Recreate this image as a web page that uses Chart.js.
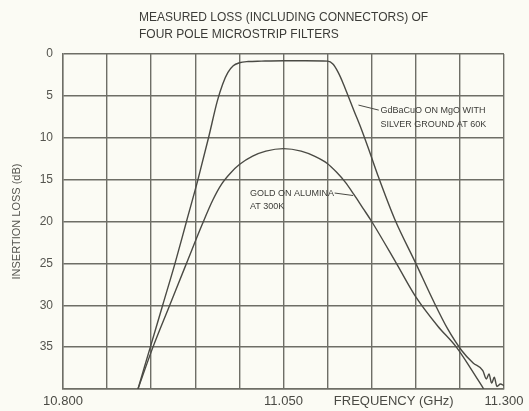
<!DOCTYPE html>
<html>
<head>
<meta charset="utf-8">
<script src="https://cdn.jsdelivr.net/npm/chart.js"></script>
<style>
  html, body { margin: 0; padding: 0; background: #fbfbf4; }
</style>
</head>
<body>
<canvas id="loss-chart" width="529" height="411"></canvas>
<script>
// values: frequency (GHz) and insertion loss (dB)
var htsFreq = [10.885, 10.899, 10.913, 10.927, 10.940, 10.953, 10.965, 10.975, 10.981, 10.987, 10.993, 11.0, 11.01, 11.025, 11.05, 11.075, 11.1, 11.106, 11.112, 11.118, 11.124, 11.13, 11.138, 11.146, 11.157, 11.176, 11.2, 11.22, 11.236, 11.252, 11.265, 11.276, 11.28, 11.283, 11.286, 11.289, 11.292, 11.296, 11.3];
var htsLoss = [40, 35, 30, 25, 20, 15, 10, 5.6, 3.6, 2.2, 1.4, 1.05, 0.9, 0.85, 0.8, 0.8, 0.85, 1.2, 2.2, 3.6, 5.2, 6.8, 8.9, 11.2, 14.5, 19.7, 25, 29.5, 32.8, 35.4, 36.9, 37.8, 38.8, 38.2, 39.3, 38.6, 39.7, 39.4, 39.6];

var goldFreq = [10.885, 10.902, 10.921, 10.940, 10.958, 10.970, 10.980, 10.990, 11.0, 11.015, 11.03, 11.05, 11.07, 11.085, 11.1, 11.11, 11.12, 11.13, 11.14, 11.15, 11.178, 11.2, 11.225, 11.246, 11.262, 11.277];
var goldLoss = [40, 35, 30, 25, 20.3, 17.4, 15.5, 14.2, 13.2, 12.2, 11.6, 11.3, 11.6, 12.2, 13.1, 14.1, 15.3, 16.8, 18.4, 20, 25, 29, 32.5, 35, 37.5, 40];

var yTicks = [0, 5, 10, 15, 20, 25, 30, 35];
var xTickValues = [10.8, 11.05, 11.175, 11.3];
var xTickLabels = ['10.800', '11.050', 'FREQUENCY (GHz)', '11.300'];

var titleLines = ['MEASURED LOSS (INCLUDING CONNECTORS) OF', 'FOUR POLE MICROSTRIP FILTERS'];
var htsNote = ['GdBaCuO ON MgO WITH', 'SILVER GROUND AT 60K'];
var goldNote = ['GOLD ON ALUMINA', 'AT 300K'];

function toPoints(xs, ys) {
  return xs.map(function (x, i) { return { x: x, y: ys[i] }; });
}

var ink = '#4a4a44';
var gridInk = '#6e6e66';

var background = {
  id: 'background',
  beforeDraw: function (chart) {
    var ctx = chart.ctx;
    ctx.save();
    ctx.fillStyle = '#fbfbf4';
    ctx.fillRect(0, 0, chart.width, chart.height);
    ctx.restore();
  }
};

var notes = {
  id: 'notes',
  afterDraw: function (chart) {
    var ctx = chart.ctx;
    var xs = chart.scales.x, ys = chart.scales.y;
    ctx.save();
    ctx.fillStyle = '#3c3c38';
    ctx.textAlign = 'left';
    ctx.textBaseline = 'middle';
    ctx.font = '12px "Liberation Sans", Arial, sans-serif';
    titleLines.forEach(function (t, i) { ctx.fillText(t, 139, 18 + i * 17); });

    ctx.font = '9px "Liberation Sans", Arial, sans-serif';
    // leader lines
    ctx.strokeStyle = ink;
    ctx.lineWidth = 1;
    ctx.beginPath();
    ctx.moveTo(xs.getPixelForValue(11.135), ys.getPixelForValue(6.1));
    ctx.lineTo(xs.getPixelForValue(11.158), ys.getPixelForValue(6.7));
    ctx.moveTo(xs.getPixelForValue(11.108), ys.getPixelForValue(16.6));
    ctx.lineTo(xs.getPixelForValue(11.129), ys.getPixelForValue(16.9));
    ctx.stroke();

    var hx = xs.getPixelForValue(11.16);
    htsNote.forEach(function (t, i) { ctx.fillText(t, hx, ys.getPixelForValue(6.8) + i * 14); });
    var gx = xs.getPixelForValue(11.012);
    goldNote.forEach(function (t, i) { ctx.fillText(t, gx, ys.getPixelForValue(16.7) + i * 13); });
    ctx.restore();
  }
};

new Chart(document.getElementById('loss-chart'), {
  type: 'line',
  data: {
    datasets: [
      {
        label: 'GdBaCuO on MgO, 60K',
        data: toPoints(htsFreq, htsLoss),
        borderColor: ink,
        borderWidth: 1.4,
        pointRadius: 0,
        cubicInterpolationMode: 'monotone',
        fill: false
      },
      {
        label: 'Gold on alumina, 300K',
        data: toPoints(goldFreq, goldLoss),
        borderColor: ink,
        borderWidth: 1.4,
        pointRadius: 0,
        cubicInterpolationMode: 'monotone',
        fill: false
      }
    ]
  },
  options: {
    responsive: false,
    animation: false,
    layout: { padding: { top: 54, right: 25, left: 0, bottom: 0 } },
    plugins: {
      legend: { display: false },
      tooltip: { enabled: false },
      title: { display: false }
    },
    scales: {
      x: {
        type: 'linear',
        min: 10.8,
        max: 11.3,
        afterBuildTicks: function (scale) {
          var t = [];
          for (var i = 0; i <= 10; i++) t.push(+(10.8 + i * 0.05).toFixed(3));
          t.push(11.175);
          t.sort(function (a, b) { return a - b; });
          scale.ticks = t.map(function (v) { return { value: v }; });
        },
        afterFit: function (scale) { scale.height = 22; },
        grid: {
          color: function (c) {
            var v = c.tick ? c.tick.value : 0;
            return Math.abs(v * 20 - Math.round(v * 20)) < 1e-6 ? gridInk : 'rgba(0,0,0,0)';
          },
          lineWidth: 1.4,
          drawTicks: false
        },
        border: { color: gridInk, width: 1.4 },
        ticks: {
          autoSkip: false,
          maxRotation: 0,
          padding: 5,
          color: '#4a4a44',
          font: { family: '"Liberation Sans", Arial, sans-serif', size: 13 },
          callback: function (v) {
            for (var i = 0; i < xTickValues.length; i++) {
              if (Math.abs(xTickValues[i] - v) < 1e-6) return xTickLabels[i];
            }
            return '';
          }
        }
      },
      y: {
        reverse: true,
        min: 0,
        max: 40,
        afterFit: function (scale) { scale.width = 63; },
        grid: { color: gridInk, lineWidth: 1.4, drawTicks: false },
        border: { color: gridInk, width: 1.4 },
        ticks: {
          stepSize: 5,
          padding: 10,
          color: '#55554f',
          font: { family: '"Liberation Sans", Arial, sans-serif', size: 12 },
          callback: function (v) { return yTicks.indexOf(v) >= 0 ? String(v) : ''; }
        },
        title: {
          display: true,
          text: 'INSERTION LOSS (dB)',
          color: '#55554f',
          font: { family: '"Liberation Sans", Arial, sans-serif', size: 11 },
          padding: { top: 10, bottom: 0 }
        }
      }
    }
  },
  plugins: [background, notes]
});
</script>
</body>
</html>
